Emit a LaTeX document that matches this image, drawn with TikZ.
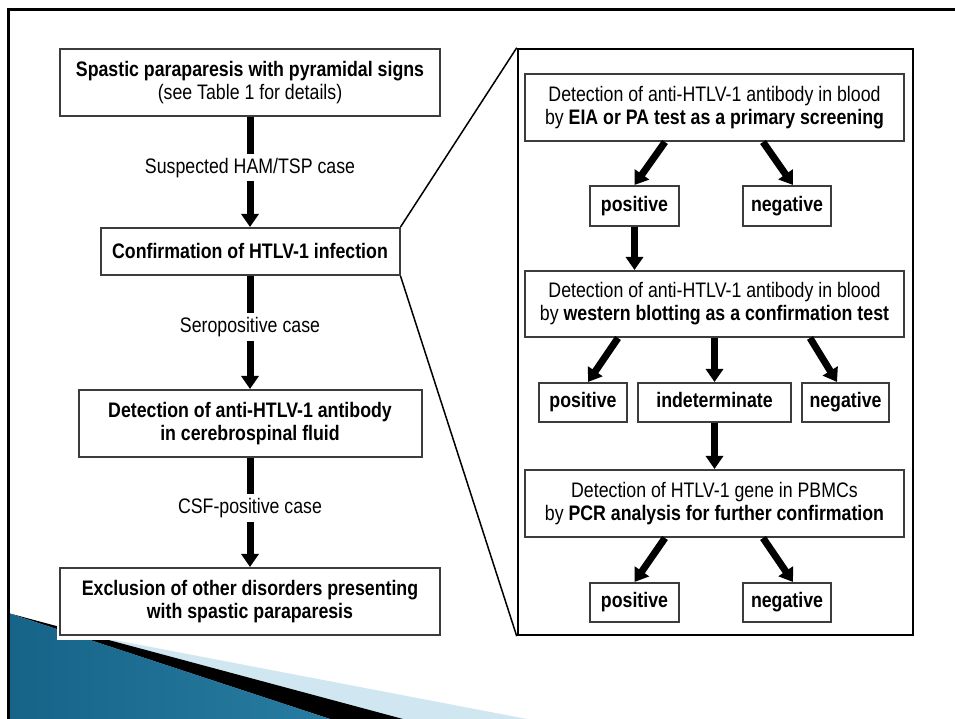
\documentclass[tikz,border=0pt]{standalone}
\usepackage{fontspec}
\setmainfont{Liberation Sans}[FakeStretch=0.845]
\usetikzlibrary{arrows.meta}
\definecolor{swooshdark}{RGB}{22,100,136}
\definecolor{swooshmid}{RGB}{82,180,218}
\definecolor{swooshpale}{RGB}{208,231,241}
\definecolor{boxline}{RGB}{60,60,60}

\begin{document}
\begin{tikzpicture}[x=1pt,y=1pt,
  box/.style={draw=boxline,line width=2pt,fill=white,inner sep=0pt,align=center,font=\fontsize{21}{23}\selectfont},
  tag/.style={box,text height=15pt,text depth=4.5pt,minimum height=39pt},
  bigarr/.style={line width=7pt,-{Triangle[length=13pt,width=17pt]}},
  lbl/.style={fill=white,inner sep=4pt,font=\fontsize{21}{23}\selectfont},
  zoomline/.style={line width=1.5pt}]
\useasboundingbox (0,0) rectangle (955,719);
\fill[white] (0,0) rectangle (955,719);
\fill[swooshpale] (60,89.4) -- (527,0) -- (8,0) -- (8,89.4) -- cycle;
\fill[black] (8,106) -- (403,0) -- (330,0) -- cycle;
\shade[left color=swooshdark,middle color=swooshmid,right color=swooshdark!70!swooshmid] (8,106) -- (330,0) -- (8,0) -- cycle;
\fill[white] (57,79) rectangle (930,705);
\draw[line width=3pt] (8,0) -- (8,709) -- (955,709);

\node[box,minimum width=380pt,minimum height=67pt] (spastic) at (250,636.5) {\textbf{Spastic paraparesis with pyramidal signs}\\(see Table 1 for details)};
\node[box,minimum width=299pt,minimum height=47pt] (confirm) at (250,467.5) {\textbf{Confirmation of HTLV-1 infection}};
\node[box,minimum width=343pt,minimum height=67pt] (csf) at (250,295.5) {\textbf{Detection of anti-HTLV-1 antibody}\\\textbf{in cerebrospinal fluid}};
\node[box,minimum width=380pt,minimum height=67pt] (exclude) at (250,117.5) {\textbf{Exclusion of other disorders presenting}\\\textbf{with spastic paraparesis}};

\draw[bigarr] (spastic) -- (confirm) node[lbl,pos=0.46]{Suspected HAM/TSP case};
\draw[bigarr] (confirm) -- (csf) node[lbl,pos=0.45]{Seropositive case};
\draw[bigarr] (csf) -- (exclude) node[lbl,pos=0.46]{CSF-positive case};

\node[draw,line width=2.5pt,minimum width=395pt,minimum height=586pt,inner sep=0pt] (panel) at (715.5,377) {};
\draw[zoomline] (confirm.north east) -- (panel.north west);
\draw[zoomline] (confirm.south east) -- (panel.south west);

\node[box,minimum width=379pt,minimum height=67pt] (eia) at (714.5,611.5) {Detection of anti-HTLV-1 antibody in blood\\by \textbf{EIA or PA test as a primary screening}};
\node[tag,minimum width=89pt,minimum height=40pt] (eiapos) at (634.5,513) {\textbf{positive}};
\node[tag,minimum width=88pt,minimum height=40pt] (eianeg) at (787,513) {\textbf{negative}};
\node[box,minimum width=379pt,minimum height=66pt] (wb) at (714.5,415) {Detection of anti-HTLV-1 antibody in blood\\by \textbf{western blotting as a confirmation test}};
\node[tag,minimum width=88pt] (wbpos) at (583,316.5) {\textbf{positive}};
\node[tag,minimum width=153pt] (wbind) at (714.5,316.5) {\textbf{indeterminate}};
\node[tag,minimum width=87pt] (wbneg) at (845.5,316.5) {\textbf{negative}};
\node[box,minimum width=379pt,minimum height=67pt] (pcr) at (714.5,215.5) {Detection of HTLV-1 gene in PBMCs\\by \textbf{PCR analysis for further confirmation}};
\node[tag,minimum width=89pt] (pcrpos) at (634.5,116.5) {\textbf{positive}};
\node[tag,minimum width=88pt] (pcrneg) at (787,116.5) {\textbf{negative}};

\draw[bigarr] ([xshift=-49.5pt]eia.south) -- (eiapos.north);
\draw[bigarr] ([xshift=48.5pt]eia.south) -- ([xshift=6pt]eianeg.north);
\draw[bigarr] (eiapos) -- (eiapos |- wb.north);
\draw[bigarr] ([xshift=-96.5pt]wb.south) -- ([xshift=5pt]wbpos.north);
\draw[bigarr] (wb) -- (wbind);
\draw[bigarr] ([xshift=95.5pt]wb.south) -- ([xshift=-8.5pt]wbneg.north);
\draw[bigarr] (wbind) -- (pcr);
\draw[bigarr] ([xshift=-49.5pt]pcr.south) -- (pcrpos.north);
\draw[bigarr] ([xshift=48.5pt]pcr.south) -- ([xshift=6pt]pcrneg.north);
\end{tikzpicture}
\end{document}
